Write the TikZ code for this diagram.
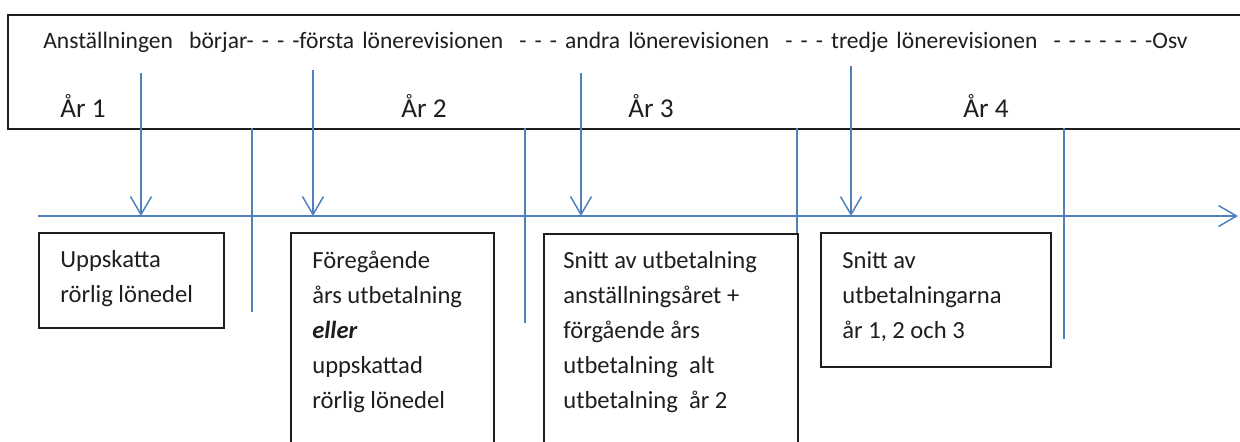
\documentclass[tikz,border=0pt]{standalone}
\usepackage{fontspec}
\setmainfont{Carlito}
\usetikzlibrary{arrows.meta}
\definecolor{lineblue}{RGB}{79,129,189}
\definecolor{inkgray}{RGB}{30,30,30}
\begin{document}
\begin{tikzpicture}[x=0.02cm,y=-0.02cm,
  every node/.style={inner sep=0pt,anchor=base west,text=inkgray},
  box/.style={draw=inkgray,line width=1.1pt,anchor=north west},
  tline/.style={draw=lineblue,line width=0.85pt},
  flow/.style={tline,-{Straight Barb[length=0.36cm,width=0.42cm]}},
  boxtext/.style={align=left,font=\fontsize{14}{19.8}\selectfont},
  yeartext/.style={font=\fontsize{15.5}{18}\selectfont}]
  \useasboundingbox (0,0) rectangle (1240,441);
  \node[box,minimum width=25cm,minimum height=2.28cm] (frame) at (7,14) {};
  \node[font=\fontsize{13.4}{15}\selectfont] (head) at (43,48) {\spaceskip=4.6pt\relax Anställningen\ \ börjar- - - -första lönerevisionen\ \ - - - andra lönerevisionen\ \ - - - tredje lönerevisionen\ \ - - - - - - -Osv};
  \node[yeartext] (y1) at (60,117) {År 1};
  \node[yeartext] (y2) at (401,117) {År 2};
  \node[yeartext] (y3) at (628,117) {År 3};
  \node[yeartext] (y4) at (963,117) {År 4};
  % time line
  \coordinate (tstart) at (38,216);
  \coordinate (tend) at (1238,216);
  \draw[flow] (tstart) -- (tend);
  % revision arrows
  \coordinate (r1) at (141,73);  \coordinate (p1) at (141,216);
  \coordinate (r2) at (313,70);  \coordinate (p2) at (313,216);
  \coordinate (r3) at (581,73);  \coordinate (p3) at (581,216);
  \coordinate (r4) at (851,66);  \coordinate (p4) at (851,216);
  \draw[flow] (r1) -- (p1);
  \draw[flow] (r2) -- (p2);
  \draw[flow] (r3) -- (p3);
  \draw[flow] (r4) -- (p4);
  % year limits
  \coordinate (s1) at (252,128); \coordinate (e1) at (252,312);
  \coordinate (s2) at (525,128); \coordinate (e2) at (525,323);
  \coordinate (s3) at (797,128); \coordinate (e3) at (797,233);
  \coordinate (s4) at (1064,128); \coordinate (e4) at (1064,339);
  \draw[tline] (s1) -- (e1);
  \draw[tline] (s2) -- (e2);
  \draw[tline] (s3) -- (e3);
  \draw[tline] (s4) -- (e4);
  % boxes
  \node[box,minimum width=3.7cm,minimum height=1.9cm] (b1) at (38,232) {};
  \node[box,minimum width=4.06cm,minimum height=4.6cm] (b2) at (290,232) {};
  \node[box,minimum width=5.08cm,minimum height=4.6cm] (b3) at (543,233) {};
  \node[box,minimum width=4.6cm,minimum height=2.68cm] (b4) at (820,232) {};
  % text set from its last baseline
  \node[boxtext] (t1) at (60,302) {Uppskatta\\rörlig lönedel};
  \node[boxtext] (t2) at (312,408) {Föregående\\års utbetalning\\\textbf{\textit{eller}}\\uppskattad\\rörlig lönedel};
  \node[boxtext] (t3) at (563,408) {Snitt av utbetalning\\anställningsåret +\\förgående års\\utbetalning\ \ alt\\utbetalning\ \ år 2};
  \node[boxtext] (t4) at (842,338) {Snitt av\\utbetalningarna\\år 1, 2 och 3};
\end{tikzpicture}
\end{document}
